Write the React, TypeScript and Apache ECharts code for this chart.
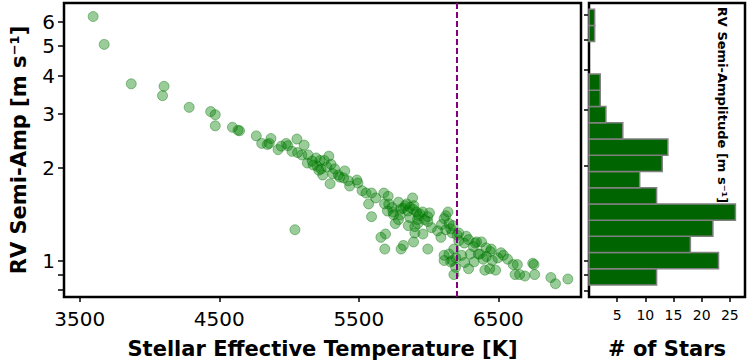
import React, { useEffect, useRef } from "react";
import * as echarts from "echarts";

// Stellar effective temperature [K] and RV semi-amplitude [m/s] per star
const teff = [
  3596, 3675, 3869, 4104, 4093, 4284, 4438, 4471, 4471, 4594,
  4634, 4645, 4765, 4804, 4844, 4870, 4858, 4944, 4979, 4991,
  5021, 5056, 5108, 5091, 5136, 5131, 5194, 5201, 5229, 5252,
  5241, 5271, 5301, 5313, 5294, 5353, 5399, 5425, 5434, 5486,
  5493, 5523, 5551, 5591, 5570, 5621, 5591, 5679, 5710, 5714,
  5684, 5745, 5784, 5800, 5761, 5784, 5843, 5854, 5885, 5889,
  5913, 5936, 5920, 5971, 5994, 5959, 5901, 5892, 5994, 5819,
  5803, 5686, 5691, 5658, 5042, 6064, 6088, 6123, 6158, 6169,
  6146, 6204, 6111, 6146, 6181, 6169, 6193, 6237, 6216, 6270,
  6286, 6256, 6333, 6379, 6321, 6298, 6368, 6442, 6519, 6536,
  6496, 6158, 6286, 6326, 6403, 6438, 6480, 6456, 6606, 6636,
  6746, 6755, 6620, 6652, 6690, 6760, 6876, 6909, 6998, 6449,
  6344, 6414, 6356, 5222, 5213, 5173, 5285, 5363, 5738, 5901,
  5994, 6092, 6123, 5923, 5749, 5866, 5831, 4921, 5061, 5166,
  5327, 5390, 5817, 5852, 5894, 5929, 5957, 6006, 5796, 6111,
  6139, 5705, 5866, 6020, 6174, 6216, 6412, 6195, 6258, 6391,
  6566, 6111, 6181,
];
const rvAmp = [
  6.25, 5.07, 3.77, 3.70, 3.45, 3.16, 3.06, 2.99, 2.75, 2.72,
  2.66, 2.65, 2.55, 2.41, 2.39, 2.50, 2.41, 2.36, 2.41, 2.37,
  2.27, 2.49, 2.38, 2.21, 2.21, 2.08, 2.16, 2.03, 1.99, 2.12,
  1.90, 2.02, 2.06, 1.92, 1.78, 1.90, 1.96, 1.82, 1.75, 1.83,
  1.79, 1.69, 1.66, 1.66, 1.53, 1.60, 1.39, 1.66, 1.62, 1.53,
  1.53, 1.44, 1.55, 1.47, 1.32, 1.36, 1.53, 1.30, 1.60, 1.47,
  1.44, 1.42, 1.36, 1.36, 1.39, 1.22, 1.23, 1.15, 1.09, 1.12,
  1.09, 1.09, 1.22, 1.19, 1.26, 1.25, 1.19, 1.40, 1.27, 1.23,
  1.32, 1.21, 1.04, 1.05, 1.09, 1.00, 0.95, 1.04, 1.23, 1.20,
  1.17, 1.14, 1.14, 1.15, 1.11, 1.05, 1.05, 1.07, 1.06, 1.04,
  1.02, 0.99, 0.94, 0.99, 0.93, 0.94, 0.93, 1.00, 0.97, 0.97,
  0.98, 0.97, 0.90, 0.90, 0.89, 0.90, 0.88, 0.84, 0.87, 1.09,
  1.15, 1.03, 1.05, 2.12, 1.97, 2.05, 2.19, 1.87, 1.49, 1.29,
  1.34, 1.31, 1.26, 1.32, 1.41, 1.49, 1.51, 2.30, 2.25, 2.11,
  1.99, 1.86, 1.48, 1.45, 1.51, 1.40, 1.44, 1.43, 1.41, 1.37,
  1.44, 1.45, 1.38, 1.28, 1.30, 1.16, 1.10, 1.02, 0.985, 1.01,
  1.01, 1.00, 0.90,
];

// Histogram of log10(RV semi-amplitude), bins from lowest to highest
const histCounts = [12, 23, 18, 22, 26, 12, 9, 13, 14, 6, 3, 2, 2, 0, 0, 1, 1];
const histLogLow = -0.0776;
const histLogBinWidth = 0.0513;

const xTicks = [3500, 4500, 5500, 6500];
const yLabelTicks = [1, 2, 3, 4, 5, 6];
const yAllTicks = [0.8, 0.9, 1, 2, 3, 4, 5, 6];
const histXTicks = [5, 10, 15, 20, 25];
const teffCut = 6200;

const FONT = "DejaVu Sans";

export default function App() {
  const ref = useRef<HTMLDivElement>(null);
  useEffect(() => {
    if (!ref.current) return;
    const chart = echarts.init(ref.current, null, { renderer: "svg" });
    const lg = Math.log10;
    const scatterData = teff.map((t, i) => [t, lg(rvAmp[i])]);
    const histData = histCounts
      .map((c, i) => [c, histLogLow + i * histLogBinWidth, histLogLow + (i + 1) * histLogBinWidth])
      .filter((d) => d[0] > 0);
    const tickStyle = { color: "#000", width: 1.5 };
    const plain = (v: number) => String(v);
    const option: any = {
      animation: false,
      backgroundColor: "#fff",
      grid: [
        { left: 51, top: 3, width: 530, height: 302, show: true, borderColor: "#000", borderWidth: 2.5, containLabel: false },
        { left: 589, top: 3, width: 156, height: 302, show: true, borderColor: "#000", borderWidth: 2.5, containLabel: false },
      ],
      xAxis: [
        {
          gridIndex: 0, type: "value", min: 3387, max: 7092, position: "bottom",
          axisLine: { show: false, onZero: false }, splitLine: { show: false },
          axisTick: { show: true, customValues: xTicks, length: 5, lineStyle: tickStyle },
          axisLabel: { customValues: xTicks, fontSize: 20, color: "#000", fontFamily: FONT, margin: 12, formatter: plain },
          name: "Stellar Effective Temperature [K]", nameLocation: "middle", nameGap: 41,
          nameTextStyle: { fontSize: 21, fontWeight: "bold", fontFamily: FONT, color: "#000" },
        },
        {
          gridIndex: 1, type: "value", min: 0, max: 27.7, position: "bottom",
          axisLine: { show: false, onZero: false }, splitLine: { show: false },
          axisTick: { show: true, customValues: histXTicks, length: 5, lineStyle: tickStyle },
          axisLabel: { customValues: histXTicks, fontSize: 14, color: "#000", fontFamily: FONT, margin: 11, formatter: plain },
          name: "# of Stars", nameLocation: "middle", nameGap: 41,
          nameTextStyle: { fontSize: 21, fontWeight: "bold", fontFamily: FONT, color: "#000" },
        },
      ],
      yAxis: [
        {
          gridIndex: 0, type: "value", min: -0.119, max: 0.840, position: "left",
          axisLine: { show: false, onZero: false }, splitLine: { show: false },
          axisTick: { show: true, customValues: yAllTicks.map(lg), length: 6, lineStyle: tickStyle },
          axisLabel: {
            customValues: yLabelTicks.map(lg), fontSize: 20, color: "#000", fontFamily: FONT, margin: 9,
            formatter: (v: number) => String(Math.round(Math.pow(10, v))),
          },
          name: "RV Semi-Amp [m s\u207B\u00B9]", nameLocation: "middle", nameGap: 35, nameRotate: 90,
          nameTextStyle: { fontSize: 21, fontWeight: "bold", fontFamily: FONT, color: "#000" },
        },
        {
          gridIndex: 1, type: "value", min: -0.1154, max: 0.814, position: "left",
          axisLine: { show: false, onZero: false }, splitLine: { show: false },
          axisTick: { show: true, customValues: yAllTicks.map(lg), length: 5, lineStyle: tickStyle },
          axisLabel: { show: false },
        },
      ],
      graphic: [
        {
          type: "text", x: 722, y: 105, rotation: -Math.PI / 2,
          style: {
            text: "RV Semi-Amplitude [m s\u207B\u00B9]", font: `bold 13px "${FONT}"`, fill: "#000",
            align: "center", verticalAlign: "middle",
          },
        },
      ],
      series: [
        {
          type: "scatter", xAxisIndex: 0, yAxisIndex: 0, data: [], z: 1, silent: true,
          markLine: {
            silent: true, symbol: "none", label: { show: false },
            lineStyle: { color: "#800080", type: [6, 3], width: 2 },
            data: [{ xAxis: teffCut }],
          },
        },
        {
          type: "scatter", xAxisIndex: 0, yAxisIndex: 0, data: scatterData, z: 3,
          symbol: "circle", symbolSize: 10,
          itemStyle: { color: "rgba(0,128,0,0.5)", borderColor: "rgba(0,110,0,0.5)", borderWidth: 1 },
        },
        {
          type: "custom", xAxisIndex: 1, yAxisIndex: 1, data: histData,
          encode: { x: 0, y: [1, 2] },
          renderItem: (params: any, api: any) => {
            const c = api.value(0);
            const lo = api.value(1);
            const hi = api.value(2);
            const p0 = api.coord([0, hi]);
            const p1 = api.coord([c, lo]);
            return {
              type: "rect",
              shape: { x: p0[0], y: p0[1], width: p1[0] - p0[0], height: p1[1] - p0[1] },
              style: { fill: "#006400", stroke: "#808080", lineWidth: 1.5 },
            };
          },
        },
      ],
    };
    chart.setOption(option);
    return () => chart.dispose();
  }, []);
  return (
    <div
      ref={ref}
      style={{ position: "fixed", left: 0, top: 0, width: 748, height: 364, background: "#fff" }}
    />
  );
}
